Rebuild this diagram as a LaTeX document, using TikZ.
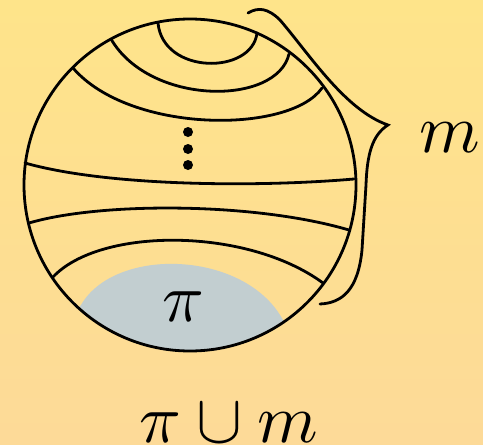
\documentclass[tikz,border=0pt]{standalone}
\usepackage{tikz}
\usetikzlibrary{positioning}
\definecolor{bgtop}{RGB}{254,228,138}
\definecolor{bgbot}{RGB}{253,218,152}
\definecolor{capblue}{RGB}{194,206,208}
\begin{document}
\begin{tikzpicture}[x=1pt, y=-1pt,
  curve/.style={line width=2.8pt, line cap=round},
  lbl/.style={inner sep=0pt, anchor=base, scale=6.9}]
\useasboundingbox (0,0) rectangle (483,445);
\shade[top color=bgtop, bottom color=bgbot] (0,0) rectangle (483,445);
\coordinate (c) at (190,185);
% --- shaded cap at the bottom ---
\begin{scope}
\clip (c) circle (166);
\fill[capblue] (70,318) -- (81,305) .. controls (115,246) and (245,250) .. (283,320)
  -- (292,332) -- (292,360) -- (70,360) -- cycle;
\end{scope}
% --- arcs inside the disc ---
\draw[curve] (158,23) .. controls (163,75) and (252,75) .. (257,33);
\draw[curve] (111,39) .. controls (150,106) and (277,106) .. (289,54);
\draw[curve] (73,68) .. controls (130,134) and (290,134) .. (322,88);
\draw[curve] (25,163) .. controls (110,187) and (262,187) .. (354,179);
\draw[curve] (29,223) .. controls (100,202) and (254,202) .. (349,230);
\draw[curve] (53,277) .. controls (100,227) and (247,227) .. (323,283);
\foreach \y in {132,149,165}
  \fill (188,\y) circle (5);
\draw[curve] (c) circle (166);
% --- brace ---
\draw[curve] (248,13) .. controls (258,7) and (268,8) .. (280,20)
  .. controls (310,55) and (345,110) .. (388,125)
  .. controls (372,135) and (367,155) .. (366,185) -- (362,250)
  .. controls (358,290) and (342,303) .. (320,304);
% --- labels ---
\node[lbl] (mlabel) at (450,152) {$m$};
\node[lbl] (pilabel) at (183,321) {$\pi$};
\node[lbl] (union) at (229,442) {$\pi\cup m$};
\end{tikzpicture}
\end{document}
